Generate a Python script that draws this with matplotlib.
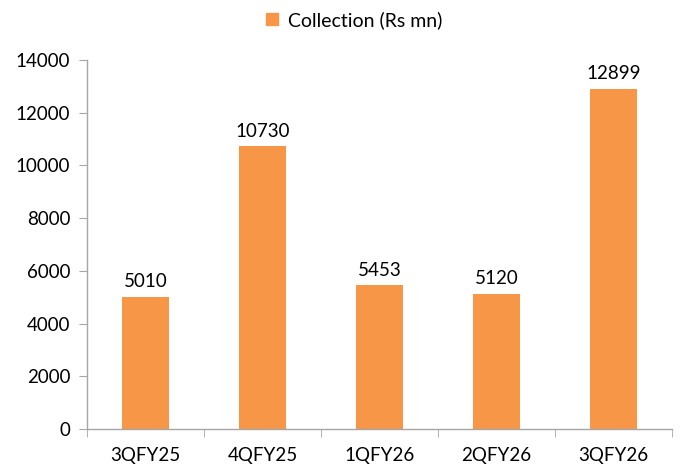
import matplotlib
matplotlib.use("Agg")
import matplotlib.pyplot as plt
from matplotlib.patches import Patch

categories = ["3QFY25", "4QFY25", "1QFY26", "2QFY26", "3QFY26"]
values = [5010, 10730, 5453, 5120, 12899]
series_name = "Collection (Rs mn)"

plt.rcParams['font.family'] = ['Lato', 'DejaVu Sans']

fig = plt.figure(figsize=(6.81, 4.66), dpi=100)
ax = fig.add_axes([87/681, 37/466, 585/681, 369/466])

color = "#F79646"
x = list(range(len(categories)))
bars = ax.bar(x, values, width=0.4, color=color)
for xi, v in zip(x, values):
    ax.text(xi, v + 250, f"{v}", ha="center", va="bottom", fontsize=13.5, color="#000000")

ax.set_xlim(-0.5, len(categories) - 0.5)
ax.set_ylim(0, 14000)
ax.set_yticks(range(0, 14001, 2000))
ax.set_xticks(x)
ax.set_xticklabels(categories)
ax.set_xticks([i - 0.5 for i in range(len(categories) + 1)], minor=True)
ax.tick_params(axis='x', which='major', length=0, pad=13, labelsize=13.5)
ax.tick_params(axis='x', which='minor', length=6, color="#A6A6A6", direction='out')
ax.tick_params(axis='y', length=6, color="#A6A6A6", labelsize=13.5, pad=6)

for s in ["top", "right"]:
    ax.spines[s].set_visible(False)
for s in ["left", "bottom"]:
    ax.spines[s].set_color("#A6A6A6")
    ax.spines[s].set_linewidth(1.0)

handle = Patch(facecolor=color, edgecolor=color)
fig.legend([handle], [series_name], loc="center", bbox_to_anchor=(354/681, 1 - 20/466),
           frameon=False, fontsize=14, handlelength=0.6, handleheight=0.6, handletextpad=0.5)

fig.savefig("out.png", dpi=100)
